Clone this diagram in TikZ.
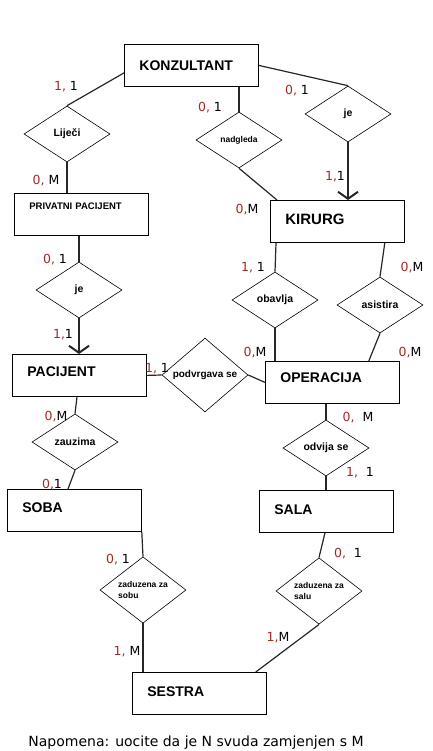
\documentclass[tikz,border=0pt]{standalone}
\usepackage{fontspec}
\usetikzlibrary{shapes.geometric, arrows.meta}
\newfontfamily\erfont{Liberation Sans}
\newfontfamily\cardfont{DejaVu Sans}
\definecolor{cardred}{RGB}{165,40,40}
\newcommand{\card}[2]{{\color{cardred}#1}#2}

\tikzset{
  entity/.style={draw, rectangle, anchor=north west, line width=0.8pt,
    text width=104pt, inner xsep=15pt, minimum height=42pt, align=left,
    font=\erfont\bfseries\fontsize{14}{16}\selectfont},
  rel/.style={draw, diamond, line width=0.6pt, minimum width=86pt,
    minimum height=56pt, inner sep=0pt, align=center,
    font=\erfont\bfseries\fontsize{10.5}{12}\selectfont},
  smallrel/.style={rel, font=\erfont\bfseries\fontsize{8.5}{10.5}\selectfont},
  cardlbl/.style={inner sep=0pt, font=\cardfont\fontsize{12.5}{14}\selectfont},
  conn/.style={line width=1.2pt, black!85},
  isa/.style={conn, -{Straight Barb[length=7pt, width=20pt, line width=2pt]}}
}

\begin{document}
\begin{tikzpicture}[x=1pt, y=-1pt]
  \useasboundingbox (0,0) rectangle (432,751);
  % entiteti
  \node[entity] (konz) at (124,44) {KONZULTANT};
  \node[entity, font=\erfont\bfseries\fontsize{9.5}{11}\selectfont, text depth=17pt] (privatni) at (14,193) {PRIVATNI PACIJENT};
  \node[entity, font=\erfont\bfseries\fontsize{15}{17}\selectfont, text depth=4pt] (kirurg) at (270,200) {KIRURG};
  \node[entity, text depth=7pt] (pacijent) at (12,354) {PACIJENT};
  \node[entity, text depth=10pt] (operacija) at (265,361) {OPERACIJA};
  \node[entity, text depth=6pt] (soba) at (7,489) {SOBA};
  \node[entity, text depth=4pt] (sala) at (259,490) {SALA};
  \node[entity, text depth=3pt] (sestra) at (132,672) {SESTRA};
  % veze
  \node[rel] (lijeci) at (67,134) {Liječi};
  \node[smallrel] (nadgleda) at (239,140) {nadgleda};
  \node[rel] (je1) at (348,114) {je};
  \node[rel] (je2) at (79,290) {je};
  \node[rel] (obavlja) at (275,300) {obavlja};
  \node[rel] (asistira) at (380,305) {asistira};
  \node[rel, font=\erfont\bfseries\fontsize{10}{12}\selectfont] (podvrgava) at (205,375) {podvrgava se};
  \node[rel] (zauzima) at (75,442) {zauzima};
  \node[rel] (odvija) at (326,448) {odvija se};
  \node[smallrel, align=left] (zsobu) at (143,590) {zaduzena za\\sobu};
  \node[smallrel, align=left] (zsalu) at (319,591) {zaduzena za\\salu};
  % spojnice
  \draw[conn] ([yshift=-7.5pt]konz.west) -- (lijeci.north);
  \draw[conn] (lijeci.south) -- (lijeci.south |- privatni.north);
  \draw[conn] (nadgleda.north |- konz.south) -- (nadgleda.north);
  \draw[conn] (nadgleda.south) -- ([xshift=7pt]kirurg.north west);
  \draw[conn] (konz.east) -- (je1.north);
  \draw[isa] (je1.south) -- (je1.south |- kirurg.north);
  \draw[conn] (je2.north |- privatni.south) -- (je2.north);
  \draw[isa] (je2.south) -- (je2.south |- pacijent.north);
  \draw[conn] ([xshift=6pt]kirurg.south west) -- (obavlja.north);
  \draw[conn] (obavlja.south) -- (obavlja.south |- operacija.north);
  \draw[conn] ([xshift=-20pt]kirurg.south east) -- (asistira.north);
  \draw[conn] (asistira.south) -- ([xshift=-31pt]operacija.north east);
  \draw[conn] (pacijent.east) -- (podvrgava.west);
  \draw[conn] (podvrgava.east) -- (operacija.west);
  \draw[conn] ([xshift=65pt]pacijent.south west) -- (zauzima.north);
  \draw[conn] (zauzima.south) -- ([xshift=61pt]soba.north west);
  \draw[conn] (odvija.north |- operacija.south) -- (odvija.north);
  \draw[conn] (odvija.south) -- (odvija.south |- sala.north);
  \draw[conn] (soba.south east) -- (zsobu.north);
  \draw[conn] (zsobu.south) -- (zsobu.south |- sestra.north);
  \draw[conn] ([xshift=66pt]sala.south west) -- (zsalu.north);
  \draw[conn] (zsalu.south) -- ([xshift=-11pt]sestra.north east);
  % kardinalnosti
  \node[cardlbl] (k1) at (66,87) {\card{1, }{1}};
  \node[cardlbl] (k2) at (46,181) {\card{0, }{M}};
  \node[cardlbl] (k3) at (210,108) {\card{0, }{1}};
  \node[cardlbl] (k4) at (297,91) {\card{0, }{1}};
  \node[cardlbl] (k5) at (335,177) {\card{1,}{1}};
  \node[cardlbl] (k6) at (247,210) {\card{0,}{M}};
  \node[cardlbl] (k7) at (55,260) {\card{0, }{1}};
  \node[cardlbl] (k8) at (63,335) {\card{1,}{1}};
  \node[cardlbl] (k9) at (253,268) {\card{1, }{1}};
  \node[cardlbl] (k10) at (412,268) {\card{0,}{M}};
  \node[cardlbl] (k11) at (255,353) {\card{0,}{M}};
  \node[cardlbl] (k12) at (410,353) {\card{0,}{M}};
  \node[cardlbl] (k13) at (157,369) {\card{1, }{1}};
  \node[cardlbl] (k14) at (56,417) {\card{0,}{M}};
  \node[cardlbl] (k15) at (52,485) {\card{0,}{1}};
  \node[cardlbl] (k16) at (358,418) {\card{0, }{\ M}};
  \node[cardlbl] (k17) at (360,473) {\card{1, }{\ 1}};
  \node[cardlbl] (k18) at (118,560) {\card{0, }{1}};
  \node[cardlbl] (k19) at (348,554) {\card{0, }{\ 1}};
  \node[cardlbl] (k20) at (127,652) {\card{1, }{M}};
  \node[cardlbl] (k21) at (278,638) {\card{1,}{M}};
  % napomena
  \node[font=\cardfont\fontsize{14}{16}\selectfont, inner sep=0pt] (napomena) at (196,743) {Napomena: uocite da je N svuda zamjenjen s M};
\end{tikzpicture}
\end{document}
